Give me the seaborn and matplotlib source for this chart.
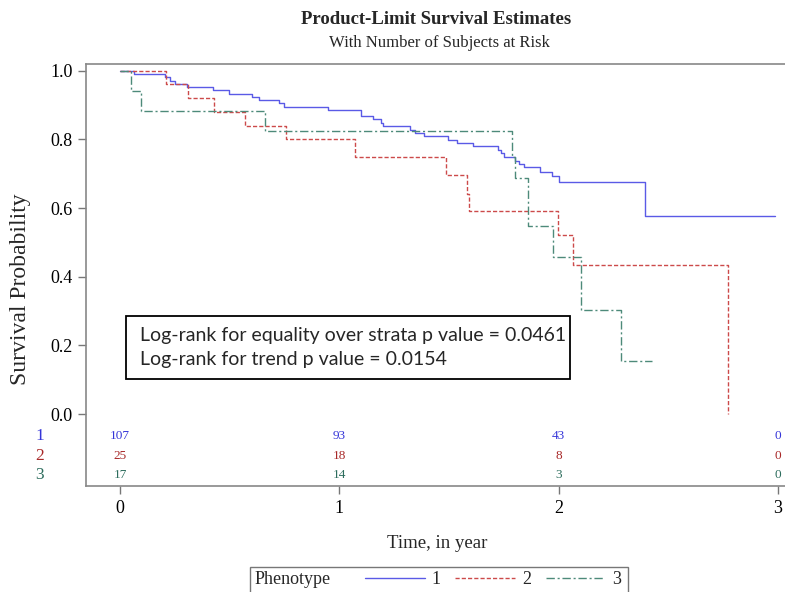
import pandas as pd
import matplotlib.pyplot as plt
import seaborn as sns
from matplotlib.patches import Rectangle
from matplotlib.lines import Line2D

# Kaplan-Meier steps (time in years, survival after the drop)
t1 = [0, 0.064, 0.205, 0.227, 0.25, 0.305, 0.424, 0.495, 0.60, 0.632, 0.727, 0.75, 0.95,
      1.098, 1.152, 1.19, 1.197, 1.323, 1.345, 1.386, 1.495, 1.536, 1.609, 1.723, 1.739,
      1.753, 1.80, 1.818, 1.841, 1.917, 1.97, 2.003, 2.394, 2.985]
s1 = [1.0, 0.990, 0.981, 0.971, 0.962, 0.952, 0.943, 0.933, 0.924, 0.914, 0.905, 0.895, 0.886,
      0.869, 0.858, 0.848, 0.839, 0.828, 0.819, 0.809, 0.799, 0.790, 0.781, 0.770, 0.760,
      0.748, 0.736, 0.729, 0.719, 0.706, 0.694, 0.675, 0.578, 0.578]
t2 = [0, 0.209, 0.311, 0.427, 0.568, 0.755, 1.071, 1.488, 1.58, 1.591, 1.997, 2.065, 2.77]
s2 = [1.0, 0.96, 0.92, 0.88, 0.84, 0.80, 0.75, 0.695, 0.641, 0.590, 0.522, 0.435, 0.0]
t3 = [0, 0.05, 0.094, 0.659, 1.788, 1.803, 1.861, 1.973, 2.10, 2.285, 2.424]
s3 = [1.0, 0.941, 0.882, 0.824, 0.749, 0.686, 0.547, 0.457, 0.304, 0.154, 0.154]

groups = ['1', '2', '3']
risk_times = [0, 1, 2, 3]
at_risk = {'1': [107, 93, 43, 0], '2': [25, 18, 8, 0], '3': [17, 14, 3, 0]}

line_colors = {'1': '#5a5ae6', '2': '#cc4a4a', '3': '#4d8a7a'}
text_colors = {'1': '#3535d8', '2': '#a82828', '3': '#2d6d5d'}

df = pd.concat([
    pd.DataFrame({'time': t1, 'surv': s1, 'Phenotype': '1'}),
    pd.DataFrame({'time': t2, 'surv': s2, 'Phenotype': '2'}),
    pd.DataFrame({'time': t3, 'surv': s3, 'Phenotype': '3'}),
], ignore_index=True)

sns.set_style('white')
plt.rcParams['font.family'] = ['Liberation Serif', 'DejaVu Serif']

fig = plt.figure(figsize=(7.85, 5.92), dpi=100)
ax = fig.add_axes([86 / 785, 1 - 486 / 592, 699 / 785, 422 / 592])

sns.lineplot(data=df, x='time', y='surv', hue='Phenotype', style='Phenotype',
             palette=line_colors, dashes={'1': '', '2': (3, 1.5), '3': (6, 2, 1.5, 2)},
             drawstyle='steps-post', estimator=None, sort=False, lw=1.0,
             legend=False, ax=ax)

ax.set_xlim(-0.155, 3.032)
ax.set_ylim(-0.2097, 1.0195)
ax.set_yticks([0, 0.2, 0.4, 0.6, 0.8, 1.0])
ax.set_yticklabels(['0.0', '0.2', '0.4', '0.6', '0.8', '1.0'])
ax.set_xticks(risk_times)
ax.set_xticklabels(['0', '1', '2', '3'])
ax.set_xlabel('')
ax.set_ylabel('')
ax.tick_params(axis='both', labelsize=13, colors='#777777', labelcolor='black',
               length=6, width=1, direction='out', left=True, bottom=True)
ax.tick_params(axis='x', pad=4)
for side in ['left', 'bottom', 'top']:
    ax.spines[side].set_color('#888888')
    ax.spines[side].set_linewidth(1.2)
ax.spines['right'].set_visible(False)

# number at risk table
row_y = {'1': -0.064, '2': -0.121, '3': -0.179}
for g in groups:
    for t, n in zip(risk_times, at_risk[g]):
        ax.text(t, row_y[g], str(n), color=text_colors[g], fontsize=9.5,
                ha='center', va='center', clip_on=False)
    ax.text(-0.365, row_y[g], g, color=text_colors[g], fontsize=12.5,
            ha='center', va='center', clip_on=False)

# titles and labels
fig.text(436 / 785, 1 - 20 / 592, 'Product-Limit Survival Estimates', ha='center', va='center',
         fontsize=13.5, fontweight='bold')
fig.text(439 / 785, 1 - 43 / 592, 'With Number of Subjects at Risk', ha='center', va='center',
         fontsize=12)
fig.text(21 / 785, 1 - 289 / 592, 'Survival Probability', rotation=90, ha='center', va='center',
         fontsize=17)
fig.text(437 / 785, 1 - 544 / 592, 'Time, in year', ha='center', va='center', fontsize=13.5)

# log-rank box
fig.patches.append(Rectangle((126 / 785, 1 - 379 / 592), 444 / 785, 63 / 592, fill=False,
                             ec='black', lw=1.3, transform=fig.transFigure, figure=fig))
fig.text(140 / 785, 1 - 336 / 592, 'Log-rank for equality over strata p value = 0.0461',
         ha='left', va='center', fontsize=14, family=['Lato', 'DejaVu Sans'])
fig.text(140 / 785, 1 - 360 / 592, 'Log-rank for trend p value = 0.0154',
         ha='left', va='center', fontsize=14, family=['Lato', 'DejaVu Sans'])

# legend
fig.patches.append(Rectangle((250 / 785, 1 - 600 / 592), 378 / 785, 33 / 592, fill=False,
                             ec='#777777', lw=1.0, transform=fig.transFigure, figure=fig))
fig.text(255 / 785, 1 - 580 / 592, 'Phenotype', ha='left', va='center', fontsize=13)
handles = [Line2D([], [], color=line_colors['1'], lw=1.0),
           Line2D([], [], color=line_colors['2'], lw=1.0, dashes=(3, 1.5)),
           Line2D([], [], color=line_colors['3'], lw=1.0, dashes=(6, 2, 1.5, 2))]
fig.legend(handles, groups, loc='center left', bbox_to_anchor=(365 / 785, 1 - 580 / 592),
           ncol=3, frameon=False, fontsize=13, handlelength=3.3, handletextpad=0.4,
           columnspacing=0.8, borderpad=0, borderaxespad=0)

fig.savefig('out.png', dpi=100)
